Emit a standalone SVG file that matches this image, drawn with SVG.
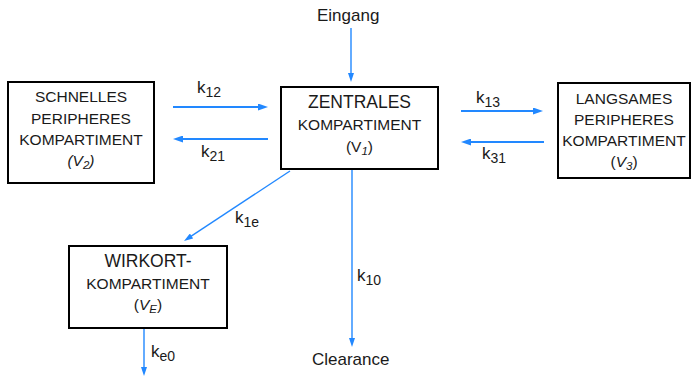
<svg xmlns="http://www.w3.org/2000/svg" width="692" height="376" viewBox="0 0 692 376">
<style>
text{font-family:"Liberation Sans",Arial,sans-serif;fill:#1a1a1a}
.box{fill:#fff;stroke:#000;stroke-width:2}
.bt{font-size:15.5px;text-anchor:middle}
.big{font-size:17.5px;text-anchor:middle}
.lbl{font-size:17px}
.sub{font-size:14px}
.vs{font-size:11.5px;font-style:italic}
.it{font-style:italic}
.thick{stroke:#2288ff;stroke-width:2.2;fill:none}
.thin{stroke:#2288ff;stroke-width:1.4;fill:none}
</style>
<defs>
<marker id="ah" markerUnits="userSpaceOnUse" markerWidth="10" markerHeight="7" refX="4" refY="3.5" orient="auto">
<path d="M0,0 L10,3.5 L0,7 z" fill="#2288ff"/>
</marker>
<marker id="at" markerUnits="userSpaceOnUse" markerWidth="9" markerHeight="6" refX="4" refY="3" orient="auto">
<path d="M0,0 L9,3 L0,6 z" fill="#2288ff"/>
</marker>
</defs>
<g id="connectors">
<line class="thin" x1="351" y1="28" x2="351" y2="77" marker-end="url(#at)"/>
<line class="thick" x1="173" y1="107" x2="262" y2="107" marker-end="url(#ah)"/>
<line class="thick" x1="268" y1="139" x2="179" y2="139" marker-end="url(#ah)"/>
<line class="thick" x1="461" y1="111" x2="537" y2="111" marker-end="url(#ah)"/>
<line class="thick" x1="544" y1="142" x2="467" y2="142" marker-end="url(#ah)"/>
<line class="thin" x1="290" y1="171" x2="188.2" y2="238.2" marker-end="url(#at)"/>
<line class="thin" x1="352" y1="170" x2="352" y2="342" marker-end="url(#at)"/>
<line class="thin" x1="144" y1="329" x2="144" y2="371" marker-end="url(#at)"/>
<text class="lbl" x="317" y="21">Eingang</text>
<text class="lbl" x="197" y="93">k<tspan class="sub" dy="4">12</tspan></text>
<text class="lbl" x="201" y="157">k<tspan class="sub" dy="4">21</tspan></text>
<text class="lbl" x="476" y="103">k<tspan class="sub" dy="4">13</tspan></text>
<text class="lbl" x="482" y="159">k<tspan class="sub" dy="4">31</tspan></text>
<text class="lbl" x="235" y="223">k<tspan class="sub" dy="4">1e</tspan></text>
<text class="lbl" x="357" y="281">k<tspan class="sub" dy="4">10</tspan></text>
<text class="lbl" x="151" y="357">k<tspan class="sub" dy="4">e0</tspan></text>
<text class="lbl" x="312" y="365">Clearance</text>
</g>
<g id="schnell">
<rect class="box" x="8" y="82" width="146" height="101"/>
<text class="bt" x="81" y="102">SCHNELLES</text>
<text class="bt" x="81" y="123.5">PERIPHERES</text>
<text class="bt" x="81" y="145">KOMPARTIMENT</text>
<text class="bt it" x="81" y="166">(V<tspan class="vs" dy="3">2</tspan><tspan dy="-3">)</tspan></text>
</g>
<g id="zentral">
<rect class="box" x="281" y="87" width="157" height="82"/>
<text class="big" x="359.5" y="108">ZENTRALES</text>
<text class="bt" x="359.5" y="130">KOMPARTIMENT</text>
<text class="bt" x="359.5" y="152">(V<tspan class="vs" dy="3">1</tspan><tspan dy="-3">)</tspan></text>
</g>
<g id="langsam">
<rect class="box" x="558" y="83" width="132" height="95"/>
<text class="bt" x="624" y="104">LANGSAMES</text>
<text class="bt" x="624" y="125">PERIPHERES</text>
<text class="bt" x="624" y="146">KOMPARTIMENT</text>
<text class="bt" x="624" y="167">(<tspan class="it">V</tspan><tspan class="vs" dy="3">3</tspan><tspan dy="-3">)</tspan></text>
</g>
<g id="wirkort">
<rect class="box" x="69" y="246" width="158" height="82"/>
<text class="big" x="148" y="267">WIRKORT-</text>
<text class="bt" x="148" y="289">KOMPARTIMENT</text>
<text class="bt" x="148" y="310">(<tspan class="it">V</tspan><tspan class="vs" dy="3">E</tspan><tspan dy="-3">)</tspan></text>
</g>
</svg>
